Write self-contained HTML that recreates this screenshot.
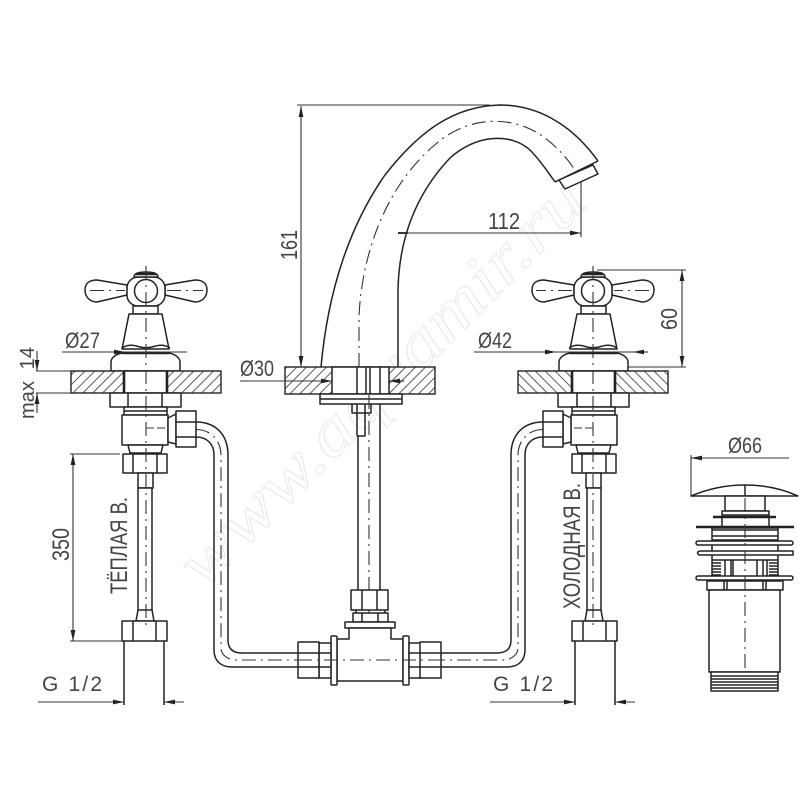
<!DOCTYPE html>
<html><head><meta charset="utf-8"><style>
html,body{margin:0;padding:0;background:#fff;width:800px;height:800px;overflow:hidden}
svg{display:block}
text{font-family:"Liberation Sans","DejaVu Sans",sans-serif;fill:#444;stroke:none}
.l{fill:none;stroke:#222;stroke-width:1.5;stroke-linejoin:round}
.w{fill:#fff;stroke:#222;stroke-width:1.5;stroke-linejoin:round}
.d{fill:none;stroke:#333;stroke-width:1.1}
.c{fill:none;stroke:#333;stroke-width:1.1;stroke-dasharray:14 5 2 5}
.t{fill:none;stroke:#222;stroke-width:2.6}
</style></head><body>
<svg width="800" height="800" viewBox="0 0 800 800" xmlns="http://www.w3.org/2000/svg">
<defs>
<pattern id="h" width="7" height="7" patternUnits="userSpaceOnUse" patternTransform="rotate(45)"><rect width="7" height="7" fill="#fff"/><line x1="0" y1="0" x2="0" y2="7" stroke="#333" stroke-width="1.6"/></pattern>
<marker id="a" markerWidth="12" markerHeight="6" refX="11" refY="3" orient="auto-start-reverse" markerUnits="userSpaceOnUse"><path d="M0 .6L11 3L0 5.400Z" fill="#222"/></marker>
<g id="valve">
<path class="l" d="M196 422C216 422 228 435 228 455V640C228 648 232 653 242 653H298" stroke-width="1.8"/>
<path class="l" d="M196 437C207 437 214 444 214 455V650C214 661 221 667 232 667H298" stroke-width="1.8"/>
<path class="c" d="M196 429.500C212 429.500 221 442 221 455V648C221 655 228 660 236 660H298"/>
<path class="w" d="M85 290C85 283 90 280 97 280L127 285V295L97 302C90 302 85 297 85 290Z"/>
<path class="w" d="M207 290C207 283 202 280 195 280L165 285V295L195 302C202 302 207 297 207 290Z"/>
<rect class="w" x="127" y="277" width="38" height="29" rx="11"/>
<circle class="l" cx="146" cy="291" r="11.500"/>
<path class="w" d="M134 277C134 274 138 272 146 272S158 274 158 277Z"/>
<path class="t" d="M136 274H156"/>
<rect class="w" x="133" y="306" width="25" height="8"/>
<path class="w" d="M129 314H162L169 349H122Z"/>
<path class="w" d="M111 371V362C111 357 118 353 124 353H167C173 353 180 357 180 362V371Z"/>
<path class="l" d="M122 348C128 344 134 345 140 347C144 348 148 348 152 347C158 345 164 344 170 348"/>
<path class="t" d="M122 353H169"/>
<path class="d" d="M95 352H187"/>
<rect x="71" y="371" width="150" height="22" fill="url(#h)" stroke="#222" stroke-width="1.400"/>
<rect class="w" x="124" y="371" width="43" height="22"/>
<path class="t" d="M124 371V393M167 371V393"/>
<rect class="w" x="110" y="393" width="71" height="14"/>
<path class="l" d="M128 393V407M162 393V407"/>
<rect class="w" x="124" y="407" width="43" height="8"/>
<path class="l" d="M124 411H167"/>
<rect class="w" x="122" y="415" width="46" height="30"/>
<path class="w" d="M168 418L176 414V444L168 442Z"/>
<rect class="w" x="176" y="411" width="20" height="36"/>
<path class="l" d="M176 422H196M176 437H196"/>
<path class="d" d="M146 428H168" stroke-dasharray="8 3"/>
<path class="w" d="M128 445H163L161 453H130Z"/>
<rect class="w" x="123" y="454" width="44" height="19"/>
<path class="l" d="M133 454V473M157 454V473"/>
<path class="w" d="M138 473H153V488H138Z"/>
<path class="w" d="M138 488H152V617H138Z" stroke-width="1.700"/>
<path class="w" d="M138 610H152L154 621H136Z"/>
<rect class="w" x="122" y="621" width="45" height="20"/>
<path class="l" d="M133 621V641M156 621V641"/>
<path class="l" d="M124 641V705M164 641V705"/>
<path class="c" d="M146 266V626"/>
<path class="c" d="M90 290.500H125M167 290.500H203"/>
</g>
</defs>
<rect width="800" height="800" fill="#fff"/>
<text transform="translate(204,590) rotate(-45)" x="0" y="0" textLength="545" lengthAdjust="spacingAndGlyphs" style="font-family:'Liberation Serif',serif;font-style:italic;font-size:68px;fill:#fff;stroke:#ececec;stroke-width:1.200">www.aquamir.ru</text>

<use href="#valve"/>
<use href="#valve" transform="translate(739,0) scale(-1,1)"/>

<!-- spout -->
<path class="l" d="M321 367C328 290 350 225 385 175C420 130 455 106 500 105C535 105 570 122 598 161"/>
<path class="l" d="M398 367V290C399 240 415 195 450 158C475 135 510 132 530 150C538 158 546 169 555 182"/>
<path class="l" d="M555 182L598 161"/>
<path class="w" d="M559 180L593 165L598 174L565 189Z"/>
<path class="c" d="M359 367V317C361 265 380 190 437 143C470 115 515 115 545 138C558 148 567 158 575 170"/>
<!-- base -->
<rect x="285" y="367" width="150" height="27" fill="url(#h)" stroke="#222" stroke-width="1.400"/>
<rect class="w" x="332" y="367" width="57" height="27"/>
<path class="l" d="M357 367V394M366 367V394M370 367V394M380 367V394"/>
<rect class="w" x="320" y="394" width="82" height="10"/>
<path class="l" d="M320 399H402"/>
<path class="l" d="M352 404V413H371V404M357 404V436M365 404V436H357"/>
<path class="l" d="M358 436V590M380 404V590"/>
<path class="c" d="M369 395V640"/>
<!-- mixer -->
<rect class="w" x="351" y="590" width="37" height="20"/>
<path class="l" d="M362 590V610M377 590V610"/>
<path class="w" d="M353 613H388V622H353Z"/>
<path class="l" d="M362 613V622M378 613V622M356 610V613M385 610V613"/>
<rect class="w" x="345" y="622" width="50" height="6"/>
<path class="w" d="M349 628H391V639H403V681H337V639H349Z"/>
<rect class="w" x="331" y="636" width="6" height="49" rx="1"/>
<rect class="w" x="403" y="636" width="6" height="49" rx="1"/>
<rect class="w" x="319" y="643" width="12" height="35"/>
<rect class="w" x="409" y="643" width="12" height="35"/>
<rect class="w" x="298" y="642" width="21" height="36"/>
<rect class="w" x="420" y="642" width="21" height="36"/>
<path class="l" d="M298 653H331M298 667H331M409 653H441M409 667H441"/>
<path class="c" d="M298 660H441"/>
<!-- drain -->
<path class="l" d="M691 496C710 488 728 485 745 485C762 485 780 488 798 496Z"/>
<path class="l" d="M745 485V496"/>
<rect class="w" x="725" y="496" width="40" height="15"/>
<rect class="w" x="722" y="511" width="47" height="16"/>
<path class="l" d="M722 515H769"/>
<path class="t" d="M713 517H776M696 527H794"/>
<rect class="w" x="712" y="528" width="66" height="50"/>
<path class="l" d="M712 536H778M712 540H778M725 560V577M731 560V577M733 560V577M757 560V577M763 560V577M767 560V577M712 560H778"/>
<path class="l" d="M712 530H778"/>
<path class="l" d="M712 563H721M712 566H721M712 569H721M712 572H721M712 575H721M769 563H778M769 566H778M769 569H778M769 572H778M769 575H778"/>
<rect class="w" x="696" y="541" width="97" height="4" rx="2"/>
<path class="w" d="M699 555C696 552 698 551 702 551H793V555Z"/>
<rect class="w" x="696" y="576" width="97" height="4" rx="2"/>
<rect class="w" x="707" y="581" width="76" height="9"/>
<path class="l" d="M724 581V590M727 581V590M763 581V590M766 581V590"/>
<rect class="w" x="709" y="590" width="71" height="82"/>
<rect class="w" x="711" y="672" width="67" height="19"/>
<path class="l" d="M711 676H778M711 679H778M711 682H778M711 685H778M711 688H778" stroke-width=".9"/>
<path class="c" d="M745 498V672"/>

<!-- dimensions -->
<g class="d">
<path d="M297 105H490"/>
<path d="M301 106V367" marker-start="url(#a)" marker-end="url(#a)"/>
<path d="M398 233H581" marker-end="url(#a)"/>
<path d="M398 233H408" stroke-width="2"/>
<path d="M581 182V237"/>
<path d="M240 381H332" marker-end="url(#a)"/>
<path d="M389 381H404" marker-start="url(#a)"/>
<path d="M62 352H125" marker-end="url(#a)"/>
<path d="M474 352H556" marker-end="url(#a)"/>
<path d="M633 352H648" marker-start="url(#a)"/>
<path d="M36 371H71M36 393H71"/>
<path d="M37 351V371" marker-end="url(#a)"/>
<path d="M37 413V393" marker-end="url(#a)"/>
<path d="M597 270H686M628 367H686"/>
<path d="M682 270V367" marker-start="url(#a)" marker-end="url(#a)"/>
<path d="M70 454H120M70 641H122"/>
<path d="M73 454V641" marker-start="url(#a)" marker-end="url(#a)"/>
<path d="M38 702H124" marker-end="url(#a)"/>
<path d="M164 702H184" marker-start="url(#a)"/>
<path d="M490 702H575" marker-end="url(#a)"/>
<path d="M615 702H635" marker-start="url(#a)"/>
<path d="M691 455V496"/>
<path d="M691 458H789" marker-start="url(#a)"/>
</g>

<text x="488" y="229" font-size="23" textLength="32" lengthAdjust="spacingAndGlyphs">112</text>
<text transform="translate(297,260) rotate(-90)" font-size="23" textLength="30" lengthAdjust="spacingAndGlyphs">161</text>
<text x="65" y="348" font-size="22" textLength="35" lengthAdjust="spacingAndGlyphs">Ø27</text>
<text x="478" y="348" font-size="22" textLength="34" lengthAdjust="spacingAndGlyphs">Ø42</text>
<text x="240" y="376" font-size="22" textLength="34" lengthAdjust="spacingAndGlyphs">Ø30</text>
<text x="728" y="453" font-size="22" textLength="34" lengthAdjust="spacingAndGlyphs">Ø66</text>
<text transform="translate(677,330) rotate(-90)" font-size="23" textLength="22" lengthAdjust="spacingAndGlyphs">60</text>
<text transform="translate(34,419) rotate(-90)" font-size="20" textLength="72" xml:space="preserve" lengthAdjust="spacing">max  14</text>
<text transform="translate(69,561) rotate(-90)" font-size="24" textLength="33" lengthAdjust="spacingAndGlyphs">350</text>
<text transform="translate(127,594) rotate(-90)" font-size="24" textLength="97" lengthAdjust="spacingAndGlyphs">ТЁПЛАЯ В.</text>
<text transform="translate(580,609) rotate(-90)" font-size="24" textLength="126" lengthAdjust="spacingAndGlyphs">ХОЛОДНАЯ В.</text>
<text x="42" y="691" font-size="21" textLength="60" xml:space="preserve" lengthAdjust="spacing">G 1/2</text>
<text x="493" y="691" font-size="21" textLength="60" xml:space="preserve" lengthAdjust="spacing">G 1/2</text>
</svg>
</body></html>
